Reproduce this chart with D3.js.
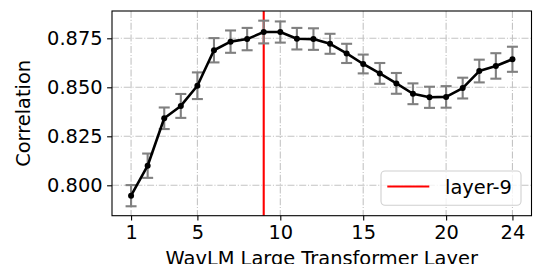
<!DOCTYPE html>
<html>
<head>
<meta charset="utf-8">
<script src="https://cdn.jsdelivr.net/npm/d3@7/dist/d3.min.js"></script>
<style>
  html, body { margin: 0; padding: 0; background: #fff; }
  svg { display: block; }
  text { font-family: "DejaVu Sans", sans-serif; }
</style>
</head>
<body>
<svg id="chart" width="540" height="264"></svg>
<script>
const layers = [1,2,3,4,5,6,7,8,9,10,11,12,13,14,15,16,17,18,19,20,21,22,23,24];
const corr = [0.7947, 0.8100, 0.8342, 0.8405, 0.8508, 0.8689, 0.8733, 0.8746, 0.8782, 0.8782, 0.8748, 0.8746,
              0.8722, 0.8673, 0.8619, 0.8571, 0.8520, 0.8467, 0.8449, 0.8451, 0.8496, 0.8583, 0.8609, 0.8643];
const err = [0.0054, 0.0062, 0.0055, 0.0061, 0.0068, 0.0062, 0.0057, 0.0057, 0.0058, 0.0054, 0.0055, 0.0055,
             0.0051, 0.0049, 0.0048, 0.0053, 0.0053, 0.0053, 0.0054, 0.0055, 0.0053, 0.0058, 0.0065, 0.0064];
const xTicks = [1, 5, 10, 15, 20, 24];
const yTicks = [0.800, 0.825, 0.850, 0.875];
const markedLayer = 9;
const legendLabel = "layer-9";
const xLabel = "WavLM Large Transformer Layer";
const yLabel = "Correlation";

const svg = d3.select("#chart");
const L = 112, R = 531.5, T = 11, B = 215.7;
const x = d3.scaleLinear().domain([-0.15, 25.15]).range([L, R]);
const y = d3.scaleLinear().domain([0.78449, 0.88893]).range([B, T]);
const fs = 19.4;

// grid
const grid = svg.append("g");
xTicks.forEach(t => grid.append("line")
  .attr("x1", x(t)).attr("x2", x(t)).attr("y1", T).attr("y2", B)
  .attr("stroke", "#c4c4c4").attr("stroke-width", 1.1).attr("stroke-dasharray", "7,1.8,1.1,1.8"));
yTicks.forEach(t => grid.append("line")
  .attr("y1", y(t)).attr("y2", y(t)).attr("x1", L).attr("x2", R)
  .attr("stroke", "#c4c4c4").attr("stroke-width", 1.1).attr("stroke-dasharray", "7,1.8,1.1,1.8"));

// red vertical line
svg.append("line")
  .attr("x1", x(markedLayer)).attr("x2", x(markedLayer)).attr("y1", T).attr("y2", B)
  .attr("stroke", "#ff0000").attr("stroke-width", 2.1);

// error bars
const eb = svg.append("g").attr("stroke", "#808080").attr("stroke-width", 2.1);
layers.forEach((l, i) => {
  const cx = x(l), y0 = y(corr[i] - err[i]), y1 = y(corr[i] + err[i]);
  eb.append("line").attr("x1", cx).attr("x2", cx).attr("y1", y0).attr("y2", y1);
  eb.append("line").attr("x1", cx - 5.5).attr("x2", cx + 5.5).attr("y1", y0).attr("y2", y0);
  eb.append("line").attr("x1", cx - 5.5).attr("x2", cx + 5.5).attr("y1", y1).attr("y2", y1);
});

// line
const lineGen = d3.line().x((d, i) => x(layers[i])).y(d => y(d));
svg.append("path").datum(corr).attr("d", lineGen)
  .attr("fill", "none").attr("stroke", "#000").attr("stroke-width", 2.6).attr("stroke-linejoin", "round");
svg.append("g").selectAll("circle").data(corr).join("circle")
  .attr("cx", (d, i) => x(layers[i])).attr("cy", d => y(d)).attr("r", 3).attr("fill", "#000");

// frame
svg.append("rect").attr("x", L).attr("y", T).attr("width", R - L).attr("height", B - T)
  .attr("fill", "none").attr("stroke", "#000").attr("stroke-width", 1.1);

// axes
const xAxis = svg.append("g").attr("transform", `translate(0,${B})`)
  .call(d3.axisBottom(x).tickValues(xTicks).tickFormat(d3.format("d")).tickSize(4.9).tickPadding(5));
xAxis.select(".domain").remove();
xAxis.selectAll("text").attr("font-size", fs).attr("fill", "#000").attr("font-family", "DejaVu Sans");
xAxis.selectAll("line").attr("stroke", "#000").attr("stroke-width", 1.1);

const yAxis = svg.append("g").attr("transform", `translate(${L},0)`)
  .call(d3.axisLeft(y).tickValues(yTicks).tickFormat(d3.format(".3f")).tickSize(4.9).tickPadding(4.5));
yAxis.select(".domain").remove();
yAxis.selectAll("text").attr("font-size", fs).attr("fill", "#000").attr("font-family", "DejaVu Sans");
yAxis.selectAll("line").attr("stroke", "#000").attr("stroke-width", 1.1);

// axis labels
svg.append("text").attr("x", (L + R) / 2).attr("y", 265).attr("text-anchor", "middle")
  .attr("font-size", fs).attr("fill", "#000").text(xLabel);
svg.append("text").attr("transform", `translate(30,${(T + B) / 2}) rotate(-90)`).attr("text-anchor", "middle")
  .attr("font-size", fs).attr("fill", "#000").text(yLabel);

// legend
const lg = svg.append("g");
lg.append("rect").attr("x", 381).attr("y", 171).attr("width", 140).attr("height", 34.3)
  .attr("rx", 4).attr("fill", "rgba(255,255,255,0.8)").attr("stroke", "#d0d0d0").attr("stroke-width", 1.1);
lg.append("line").attr("x1", 387.3).attr("x2", 429.3).attr("y1", 186.5).attr("y2", 186.5)
  .attr("stroke", "#ff0000").attr("stroke-width", 2.1);
lg.append("text").attr("x", 445).attr("y", 194).attr("font-size", fs).attr("fill", "#000").text(legendLabel);
</script>
</body>
</html>
